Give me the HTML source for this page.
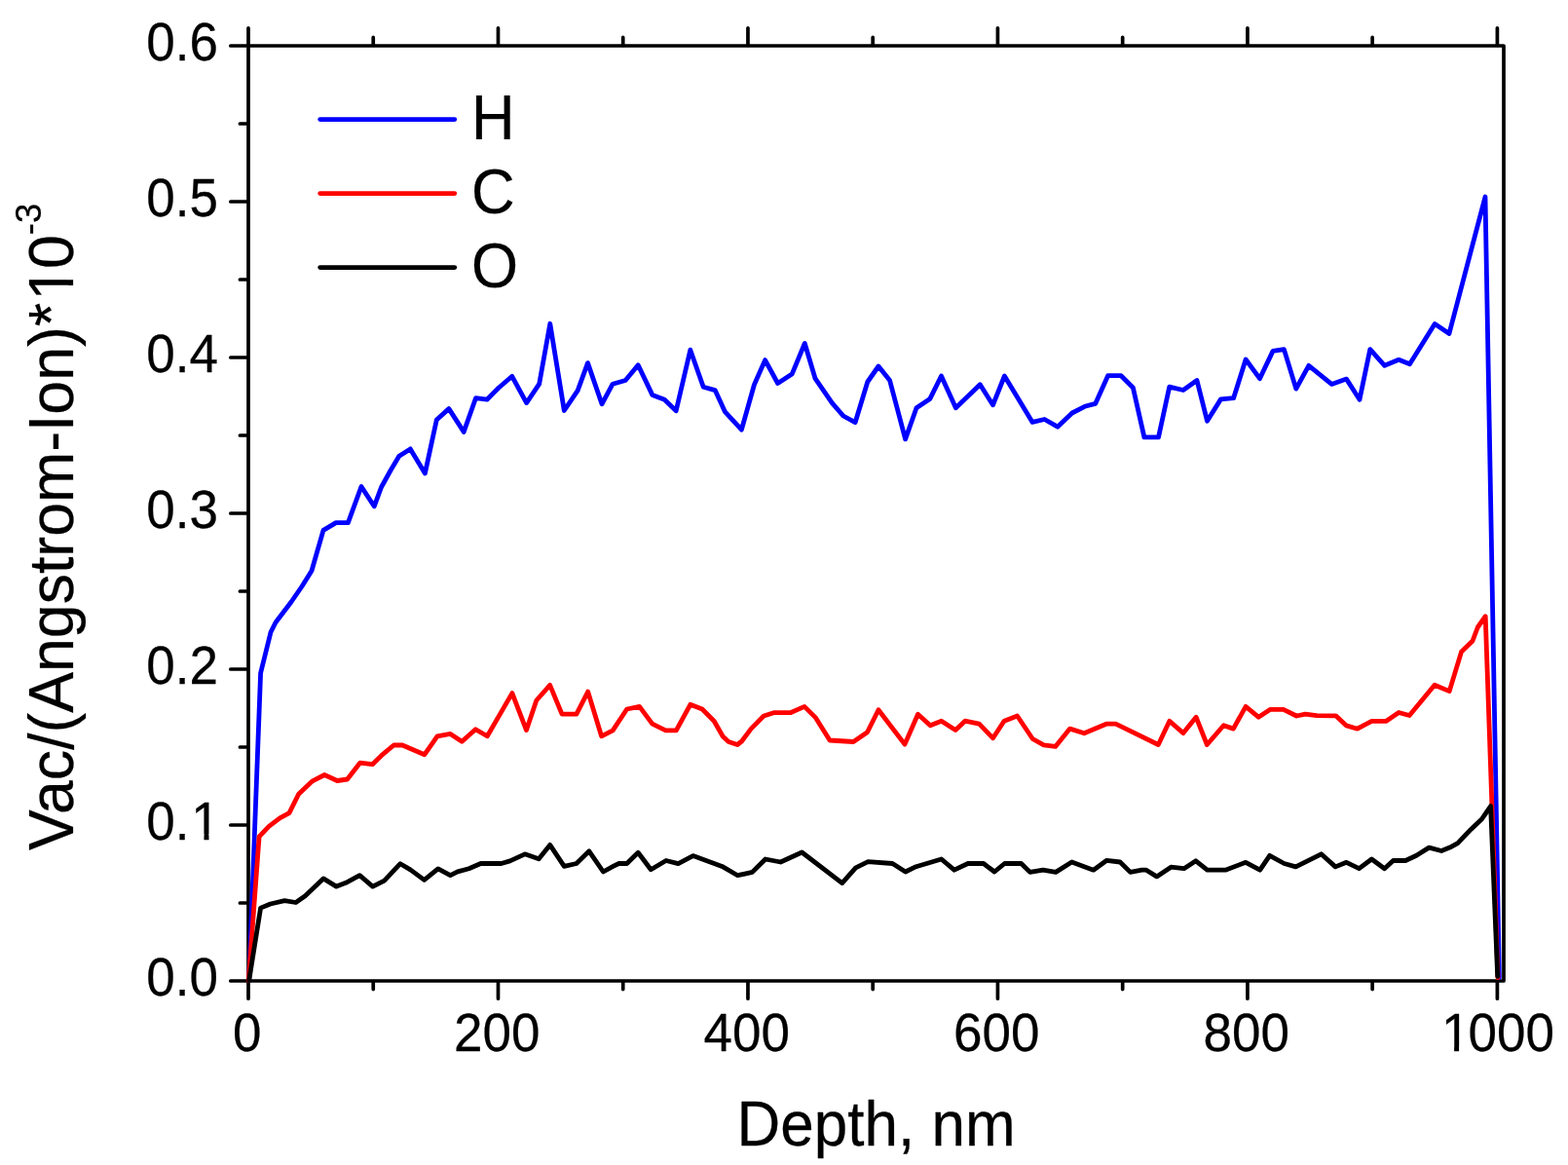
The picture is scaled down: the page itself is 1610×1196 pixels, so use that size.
<!DOCTYPE html>
<html lang="en">
<head>
<meta charset="utf-8">
<title>Vacancy depth profile</title>
<style>
html,body{margin:0;padding:0;background:#fff;}
body{width:1610px;height:1196px;overflow:hidden;}
svg{display:block;}
</style>
</head>
<body>
<svg width="1610" height="1196" viewBox="0 0 1610 1196" role="img" aria-label="Vacancy depth profile for H, C and O">
<rect width="1610" height="1196" fill="#fff"/>
<defs>
<clipPath id="c1k" clipPathUnits="userSpaceOnUse"><path clip-rule="evenodd" d="M-2000,-200H2000V200H-2000Z M-57.13,-5.22H-45.62V3.0H-57.13Z M-40.45,-5.22H-29.37V3.0H-40.45Z"/></clipPath>
<clipPath id="c01" clipPathUnits="userSpaceOnUse"><path clip-rule="evenodd" d="M-2000,-200H2000V200H-2000Z M-26.48,-5.22H-14.97V3.0H-26.48Z M-9.80,-5.22H1.27V3.0H-9.80Z"/></clipPath>
<clipPath id="cyl" clipPathUnits="userSpaceOnUse"><path clip-rule="evenodd" d="M-2000,-200H2000V200H-2000Z M242.75,-5.93H255.93V3.0H242.75Z M261.94,-5.93H274.61V3.0H261.94Z"/></clipPath>
</defs>
<g stroke="#000" stroke-width="3.7" stroke-linecap="round" stroke-linejoin="round" fill="none">
<path d="M255.0,47.0 H1544.0 V1007.0 H255.0 Z"/>
<path d="M255.00,1007.6 v17.60 M255.00,46.4 v-17.60 M383.24,1007.6 v8.00 M383.24,46.4 v-8.00 M511.48,1007.6 v17.60 M511.48,46.4 v-17.60 M639.72,1007.6 v8.00 M639.72,46.4 v-8.00 M767.96,1007.6 v17.60 M767.96,46.4 v-17.60 M896.20,1007.6 v8.00 M896.20,46.4 v-8.00 M1024.44,1007.6 v17.60 M1024.44,46.4 v-17.60 M1152.68,1007.6 v8.00 M1152.68,46.4 v-8.00 M1280.92,1007.6 v17.60 M1280.92,46.4 v-17.60 M1409.16,1007.6 v8.00 M1409.16,46.4 v-8.00 M1537.40,1007.6 v17.60 M1537.40,46.4 v-17.60 M254.4,1007.00 h-17.60 M254.4,927.00 h-8.00 M254.4,847.00 h-17.60 M254.4,767.00 h-8.00 M254.4,687.00 h-17.60 M254.4,607.00 h-8.00 M254.4,527.00 h-17.60 M254.4,447.00 h-8.00 M254.4,367.00 h-17.60 M254.4,287.00 h-8.00 M254.4,207.00 h-17.60 M254.4,127.00 h-8.00 M254.4,47.00 h-17.60"/>
</g>
<polyline points="255.7,1006.5 267.6,691.0 278.0,649.0 283.0,639.0 299.0,618.0 310.0,602.0 320.0,586.0 332.0,544.4 345.0,536.6 357.4,536.6 371.0,499.5 384.2,519.8 391.6,500.0 401.0,483.0 409.8,468.3 421.3,460.9 436.4,485.9 448.3,431.0 460.9,419.6 476.2,443.4 488.5,408.7 500.0,410.2 511.9,398.3 525.8,386.3 540.6,413.6 553.7,394.2 564.8,332.3 579.3,421.5 593.2,400.9 603.5,372.6 618.0,414.8 629.1,394.2 642.2,390.5 655.2,374.8 669.8,405.4 682.3,410.2 694.2,421.8 708.8,359.2 722.2,397.2 734.2,400.6 744.3,422.6 761.4,441.2 774.4,395.0 785.6,369.6 798.6,393.5 813.2,384.1 826.3,352.5 837.1,388.7 854.3,413.6 865.9,427.0 878.1,433.7 890.8,392.0 902.0,376.0 913.6,390.5 929.6,450.9 941.0,418.8 954.9,409.4 966.5,386.0 981.4,418.8 1006.3,394.7 1019.5,415.8 1031.4,386.0 1060.1,433.4 1072.5,430.5 1085.9,438.2 1100.8,424.0 1113.8,417.3 1124.7,414.4 1137.6,385.7 1151.1,385.7 1163.4,398.0 1174.9,448.9 1189.5,448.9 1200.7,397.2 1214.9,400.5 1229.0,390.5 1239.5,432.2 1253.5,409.9 1266.6,408.7 1279.1,369.0 1293.5,388.7 1307.0,360.4 1318.4,358.6 1330.8,399.1 1343.8,375.3 1367.3,394.4 1382.5,389.1 1396.0,410.3 1406.8,358.6 1421.7,375.3 1436.2,369.3 1447.5,373.8 1473.2,332.6 1488.0,342.5 1525.0,202.0 1539.4,1003.6" fill="none" stroke="#0000ff" stroke-width="4.8" stroke-linejoin="round" stroke-linecap="round"/>
<polyline points="255.2,1006.5 266.1,858.8 276.1,848.3 287.3,839.8 297.0,834.6 306.6,815.2 320.8,801.8 333.2,795.5 346.2,801.5 356.6,800.0 369.6,783.2 382.4,784.7 391.6,775.7 404.3,765.0 413.2,765.0 435.9,774.7 449.0,755.9 462.4,753.4 474.3,761.3 488.3,748.7 500.3,755.8 525.9,711.6 540.5,749.6 550.8,719.0 564.7,703.4 577.0,733.2 591.9,733.2 603.7,710.1 617.6,755.8 629.2,749.9 643.7,728.0 656.6,725.3 669.8,743.2 683.5,749.9 694.3,749.9 708.8,723.3 721.0,728.0 733.2,740.2 742.2,756.0 748.1,761.5 757.1,764.5 761.6,761.0 771.2,748.1 784.2,735.0 794.4,731.7 811.5,731.7 826.0,725.4 837.6,736.9 852.0,760.0 876.3,761.5 890.5,751.8 902.0,728.7 929.0,764.1 942.5,733.2 955.2,744.8 966.6,740.2 981.1,749.6 990.9,740.2 1005.4,743.2 1019.6,757.8 1031.0,740.2 1044.5,735.0 1060.3,758.5 1071.7,764.9 1083.7,766.4 1098.6,748.1 1113.2,752.8 1135.9,743.2 1145.6,743.2 1189.3,764.5 1200.8,740.2 1215.0,752.6 1228.1,736.2 1239.3,764.5 1256.4,744.8 1266.4,748.1 1279.1,725.3 1292.2,736.2 1304.4,728.3 1317.8,728.3 1331.3,735.0 1340.2,733.2 1352.1,734.7 1371.6,734.8 1382.5,744.9 1393.7,748.2 1408.4,740.4 1423.0,740.4 1436.2,731.5 1447.2,734.5 1473.0,703.2 1488.2,709.6 1500.6,668.9 1512.0,658.0 1517.3,644.0 1525.2,632.7 1538.0,1003.6" fill="none" stroke="#ff0000" stroke-width="4.8" stroke-linejoin="round" stroke-linecap="round"/>
<polyline points="255.7,1006.5 267.6,932.1 277.6,928.0 292.2,924.7 303.7,926.5 313.4,919.8 332.0,901.9 345.4,910.1 355.1,906.3 369.3,898.6 382.7,910.1 394.6,904.1 411.0,886.7 421.4,892.9 435.6,903.4 449.8,891.9 462.4,898.6 469.9,894.9 481.5,891.8 493.6,886.5 514.7,886.5 523.7,883.9 538.9,876.8 553.2,881.7 564.7,867.4 579.3,889.4 591.9,886.5 604.9,873.8 619.4,895.0 629.5,889.4 635.5,886.5 643.7,886.5 655.2,875.3 668.3,892.7 683.9,883.5 696.4,886.6 711.6,878.6 741.4,889.4 757.4,898.7 772.4,895.4 785.9,882.0 801.5,885.0 823.4,875.0 864.7,906.6 878.6,890.9 891.3,884.7 916.4,886.5 929.7,895.0 940.6,889.7 966.6,882.0 979.8,893.2 993.8,886.5 1009.9,886.5 1021.1,895.0 1031.5,886.5 1048.6,886.5 1057.6,895.4 1071.0,893.2 1084.0,895.4 1100.5,885.0 1122.7,893.2 1136.4,883.3 1150.1,885.0 1160.6,895.4 1172.5,893.2 1177.0,893.2 1187.7,899.9 1202.3,890.2 1215.7,891.7 1227.9,883.8 1239.6,893.2 1258.2,893.2 1279.1,885.3 1293.7,893.2 1303.7,878.3 1318.6,886.5 1330.5,889.9 1356.6,876.8 1371.2,889.9 1382.5,885.3 1395.5,891.7 1408.4,882.0 1421.6,891.7 1430.5,883.5 1443.2,883.5 1454.4,878.3 1467.3,870.1 1480.0,873.5 1488.6,870.1 1496.8,865.6 1510.3,851.4 1521.4,841.0 1530.6,827.6 1537.7,1002.4" fill="none" stroke="#000000" stroke-width="4.8" stroke-linejoin="round" stroke-linecap="round"/>
<g font-family="'Liberation Sans', Arial, Helvetica, sans-serif" fill="#000" stroke="#000" stroke-width="0.25" stroke-linejoin="round">
<g font-size="55.1" text-anchor="middle">
<text transform="translate(253.8,1079.3) scale(0.962,1)">0</text>
<text transform="translate(510.3,1079.3) scale(0.962,1)">200</text>
<text transform="translate(766.8,1079.3) scale(0.962,1)">400</text>
<text transform="translate(1023.2,1079.3) scale(0.962,1)">600</text>
<text transform="translate(1279.7,1079.3) scale(0.962,1)">800</text>
<text transform="translate(1537.0,1079.3) scale(0.962,1)" text-anchor="start" x="-59.32" clip-path="url(#c1k)">1<tspan dx="-1.96">000</tspan></text>
</g>
<g font-size="55.1" text-anchor="end">
<text transform="translate(223.9,1021.5) scale(0.962,1)">0.0</text>
<text transform="translate(223.9,861.5) scale(0.962,1)" text-anchor="start" x="-76.60" clip-path="url(#c01)">0.<tspan dx="1.96">1</tspan></text>
<text transform="translate(223.9,701.5) scale(0.962,1)">0.2</text>
<text transform="translate(223.9,541.5) scale(0.962,1)">0.3</text>
<text transform="translate(223.9,381.5) scale(0.962,1)">0.4</text>
<text transform="translate(223.9,221.5) scale(0.962,1)">0.5</text>
<text transform="translate(223.9,61.5) scale(0.962,1)">0.6</text>
</g>
<text transform="translate(899.6,1175.5) scale(0.966,1)" font-size="64.2" text-anchor="middle">Depth, nm</text>
<g transform="translate(75.4,541.0) rotate(-90) scale(0.969,1)" font-size="64.6">
<text x="237.53" text-anchor="end">Vac/(Angstrom-Ion)*</text>
<text x="239.83" text-anchor="start" clip-path="url(#cyl)">1<tspan dx="-2.30">0</tspan><tspan font-size="37.5" dy="-33">-3</tspan></text>
</g>
<line x1="328.7" y1="122.6" x2="466.8" y2="122.6" stroke="#0000ff" stroke-width="4.8" stroke-linecap="round"/>
<text transform="translate(483.9,143.1) scale(0.955,1)" font-size="64.7">H</text>
<line x1="328.7" y1="198.6" x2="466.8" y2="198.6" stroke="#ff0000" stroke-width="4.8" stroke-linecap="round"/>
<text transform="translate(483.9,219.1) scale(0.955,1)" font-size="64.7">C</text>
<line x1="328.7" y1="274.6" x2="466.8" y2="274.6" stroke="#000000" stroke-width="4.8" stroke-linecap="round"/>
<text transform="translate(483.9,295.1) scale(0.955,1)" font-size="64.7">O</text>
</g>
</svg>
</body>
</html>
